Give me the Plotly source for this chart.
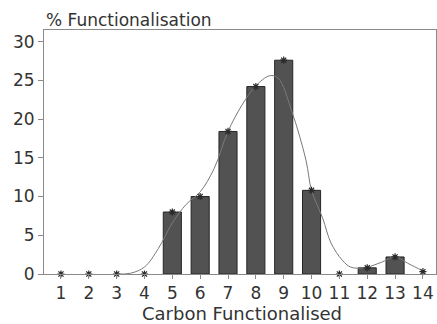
import plotly.graph_objects as go

carbons = list(range(1, 15))
tick_labels = [str(c) for c in carbons]
functionalisation = [0, 0, 0, 0, 8.0, 10.0, 18.4, 24.2, 27.6, 10.8, 0, 0.8, 2.2, 0.3]

curve_x = [3.0, 3.5, 4.0, 4.5, 5.0, 5.5, 6.0, 6.5, 7.0, 7.5, 8.0, 8.5, 8.8,
           9.3, 9.8, 10.0, 10.4, 10.7, 11.1, 11.4, 11.9, 12.5, 13.0, 13.5, 14.0]
curve_y = [0.0, 0.1, 0.9, 3.3, 6.6, 9.0, 10.6, 13.6, 18.4, 21.8, 24.3, 25.6, 25.3,
           20.9, 14.7, 10.8, 7.2, 4.0, 1.8, 0.9, 0.8, 1.5, 2.2, 1.3, 0.4]

font = "DejaVu Sans"
txt = "#333333"
axis_col = "#8a8a8a"

bar_vals = [v if v >= 0.5 else None for v in functionalisation]

fig = go.Figure()
fig.add_trace(go.Bar(
    x=carbons, y=bar_vals, width=0.65,
    marker=dict(color="#525252", line=dict(color="#262626", width=1)),
    showlegend=False, hoverinfo="skip",
))
fig.add_trace(go.Scatter(
    x=curve_x, y=curve_y, mode="lines", line=dict(color="#7a7a7a", width=1, shape="spline", smoothing=1.0),
    showlegend=False, hoverinfo="skip",
))
fig.add_trace(go.Scatter(
    x=carbons, y=functionalisation, mode="markers",
    marker=dict(symbol="asterisk-open", size=6, color="#2a2a2a",
                line=dict(color="#2a2a2a", width=1.2)),
    showlegend=False, cliponaxis=False,
))

fig.update_layout(
    width=437, height=324,
    margin=dict(l=44, r=1, t=30, b=50),
    paper_bgcolor="white", plot_bgcolor="white",
    font=dict(family=font, size=17, color=txt),
    bargap=0.35,
    xaxis=dict(
        range=[0.391, 14.47], tickvals=carbons, ticktext=tick_labels,
        showgrid=False, zeroline=False, showline=True, linecolor=axis_col, linewidth=1,
        mirror=True, ticks="outside", ticklen=4, tickcolor=axis_col,
        tickfont=dict(family=font, size=17, color=txt),
    ),
    yaxis=dict(
        range=[0, 31.5], tickvals=[0, 5, 10, 15, 20, 25, 30],
        showgrid=False, zeroline=False, showline=True, linecolor=axis_col, linewidth=1,
        mirror=True, ticks="outside", ticklen=5, tickcolor=axis_col,
        tickfont=dict(family=font, size=17, color=txt),
    ),
    annotations=[
        dict(text="% Functionalisation", xref="paper", yref="paper", x=0.0, y=1.043,
             xanchor="left", yanchor="middle", showarrow=False,
             font=dict(family=font, size=17, color=txt)),
        dict(text="Carbon Functionalised", xref="paper", yref="paper", x=0.506, y=-0.16,
             xanchor="center", yanchor="middle", showarrow=False,
             font=dict(family=font, size=18, color=txt)),
    ],
)

fig.write_html("out.html", config={"displayModeBar": False},
               post_script="document.body.style.margin='0px';document.body.style.overflow='hidden';")
